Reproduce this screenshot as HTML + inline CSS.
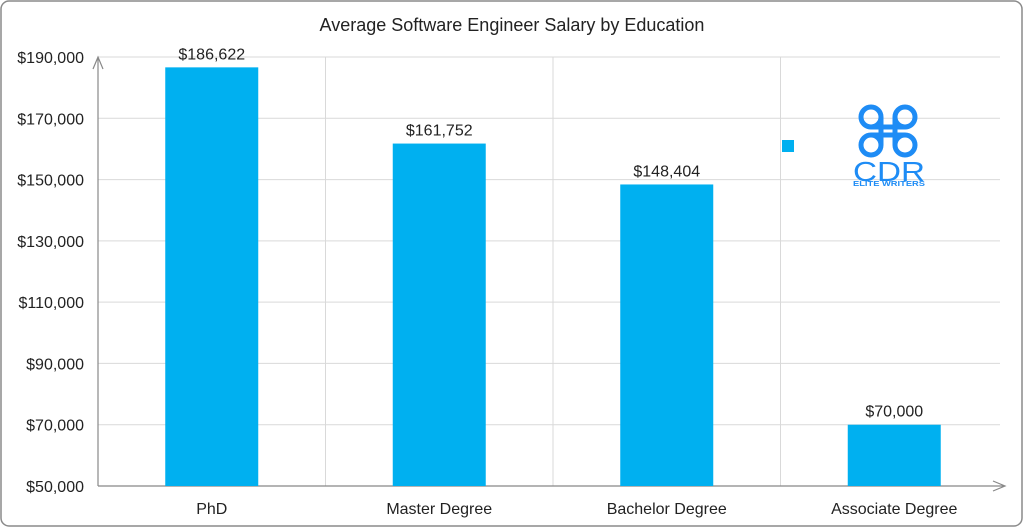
<!DOCTYPE html>
<html><head><meta charset="utf-8"><style>
body{margin:0;background:#fff;}
svg{display:block;font-family:"Liberation Sans",sans-serif;}
</style></head><body>
<svg id="chart" width="1024" height="528">
<rect x="1" y="1" width="1021" height="525" rx="8" fill="#fff" stroke="#8a8a8a" stroke-width="1.5"/>
<text x="512" y="31" text-anchor="middle" font-size="18" fill="#222">Average Software Engineer Salary by Education</text>
<g id="grid"></g><g id="bars"></g><g id="labels"></g>
<g>
<rect x="782" y="140" width="12" height="12" fill="#00b0f0"/>
<g fill="none" stroke="#1e8cf5" stroke-width="5">
<circle cx="871" cy="117" r="10"/><circle cx="905" cy="117" r="10"/><circle cx="871" cy="145" r="10"/><circle cx="905" cy="145" r="10"/>
<line x1="881" y1="117" x2="881" y2="145"/><line x1="895" y1="117" x2="895" y2="145"/>
<line x1="871" y1="127" x2="905" y2="127"/><line x1="871" y1="135" x2="905" y2="135"/>
</g>
<text x="889" y="181" text-anchor="middle" font-size="28" fill="#1e8cf5" textLength="72" lengthAdjust="spacingAndGlyphs">CDR</text>
<text x="889" y="186" text-anchor="middle" font-size="7" font-weight="bold" fill="#1e8cf5" textLength="72" lengthAdjust="spacingAndGlyphs">ELITE WRITERS</text>
</g>
</svg>
<script>
const categories=["PhD","Master Degree","Bachelor Degree","Associate Degree"];
const salaries=[186622,161752,148404,70000];
const valueLabels=["$186,622","$161,752","$148,404","$70,000"];
const ticks=[50000,70000,90000,110000,130000,150000,170000,190000];
const tickLabels=["$50,000","$70,000","$90,000","$110,000","$130,000","$150,000","$170,000","$190,000"];
const NS="http://www.w3.org/2000/svg";
const x0=98,x1=1008,yB=486,yT=57,vMin=50000,vMax=190000;
const band=(x1-x0)/categories.length;
function y(v){return yB-(v-vMin)/(vMax-vMin)*(yB-yT);}
function xc(i){return x0+band*(i+0.5);}
function mk(tag,attrs,parent,txt){const e=document.createElementNS(NS,tag);for(const k in attrs)e.setAttribute(k,attrs[k]);if(txt!==undefined)e.textContent=txt;parent.appendChild(e);return e;}
const grid=document.getElementById('grid'),bars=document.getElementById('bars'),labels=document.getElementById('labels');
ticks.forEach((t,i)=>{
 const l=mk('line',{x1:x0,x2:1000,y1:y(t),y2:y(t),stroke:'#d9d9d9','stroke-width':1},grid);
 
 
 const tx=mk('text',{x:84,y:y(t)+6,'text-anchor':'end','font-size':16,fill:'#222'},labels,tickLabels[i]);
 
 
});
for(let i=1;i<categories.length;i++){
 const l=mk('line',{x1:x0+band*i,x2:x0+band*i,y1:yT,y2:yB,stroke:'#d9d9d9','stroke-width':1},grid);
 
 
}
const ya=mk('path',{d:`M${x0} ${yB} L${x0} ${yT} M${x0-5} ${yT+12} L${x0} ${yT} L${x0+5} ${yT+12}`,stroke:'#888',fill:'none','stroke-width':1.2},grid);


const xa=mk('path',{d:`M${x0} ${yB} L1005 ${yB} M993 ${yB-5} L1005 ${yB} L993 ${yB+5}`,stroke:'#888',fill:'none','stroke-width':1.2},grid);


const bw=93;
categories.forEach((c,i)=>{
 const r=mk('rect',{x:xc(i)-bw/2,y:y(salaries[i]),width:bw,height:yB-y(salaries[i]),fill:'#00b0f0'},bars);
 
 
 const v=mk('text',{x:xc(i),y:y(salaries[i])-8,'text-anchor':'middle','font-size':16,fill:'#222'},labels,valueLabels[i]);
 
 
 const cl=mk('text',{x:xc(i),y:514,'text-anchor':'middle','font-size':16,fill:'#222'},labels,c);
 
 
});
</script>
</body></html>
